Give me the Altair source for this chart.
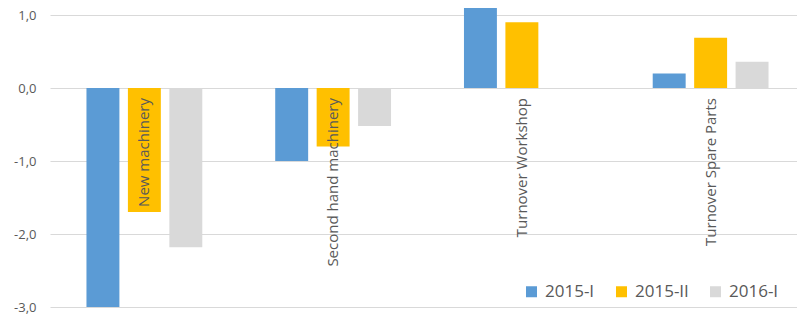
import altair as alt
import pandas as pd

categories = ["New machinery", "Second hand machinery", "Turnover Workshop", "Turnover Spare Parts"]
series_names = ["2015-I", "2015-II", "2016-I"]
s2015_I = [-3.0, -1.0, 1.19, 0.20]
s2015_II = [-1.70, -0.80, 0.90, 0.69]
s2016_I = [-2.18, -0.52, None, 0.36]
colors = ["#5B9BD5", "#FFC000", "#D9D9D9"]
y_ticks = [-3, -2, -1, 0, 1]

rows = []
for name, vals in zip(series_names, [s2015_I, s2015_II, s2016_I]):
    for c, v in zip(categories, vals):
        rows.append({"category": c, "series": name, "value": v})
df = pd.DataFrame(rows)
lab = pd.DataFrame({"category": categories})

FONT = "Open Sans"
TXT = "#595959"

x_enc = alt.X("category:N", sort=categories, axis=None,
              scale=alt.Scale(paddingInner=0, paddingOuter=0, range=[0, 755]))

bars = alt.Chart(df).mark_bar(clip=True).encode(
    x=x_enc,
    xOffset=alt.XOffset("series:N", sort=series_names,
                        scale=alt.Scale(paddingInner=0.205, paddingOuter=0.88)),
    y=alt.Y("value:Q", scale=alt.Scale(domain=[-3, 1.096], nice=False, zero=False),
            axis=alt.Axis(values=y_ticks, title=None, domain=False, ticks=False,
                          grid=True, gridColor="#D9D9D9", gridWidth=1,
                          labelColor=TXT, labelFont=FONT, labelFontSize=13,
                          labelPadding=14,
                          labelExpr="replace(replace(format(datum.value, '.1f'), '.', ','), '\u2212', '-')")),
    color=alt.Color("series:N", sort=series_names,
                    scale=alt.Scale(domain=series_names, range=colors),
                    legend=alt.Legend(title=None, orient="none", direction="horizontal",
                                      legendX=473, legendY=275, padding=0,
                                      symbolType="square", symbolSize=121,
                                      symbolStrokeWidth=0, labelFont=FONT,
                                      labelFontSize=17, labelColor=TXT,
                                      labelOffset=5, columnPadding=18,
                                      gridAlign="each")),
)

labels = alt.Chart(lab).mark_text(angle=270, align="right", baseline="middle",
                                  font=FONT, fontSize=15, color=TXT, dx=-10).encode(
    x=x_enc,
    y=alt.datum(0),
    text="category:N",
)

chart = alt.layer(bars, labels).properties(
    width=747, height=299,
    autosize=alt.AutoSizeParams(type="none"),
    padding={"left": 42, "top": 0, "right": 0, "bottom": 8},
).configure_view(stroke=None)

chart.save("out.html", embed_options={"renderer": "svg", "actions": False})
